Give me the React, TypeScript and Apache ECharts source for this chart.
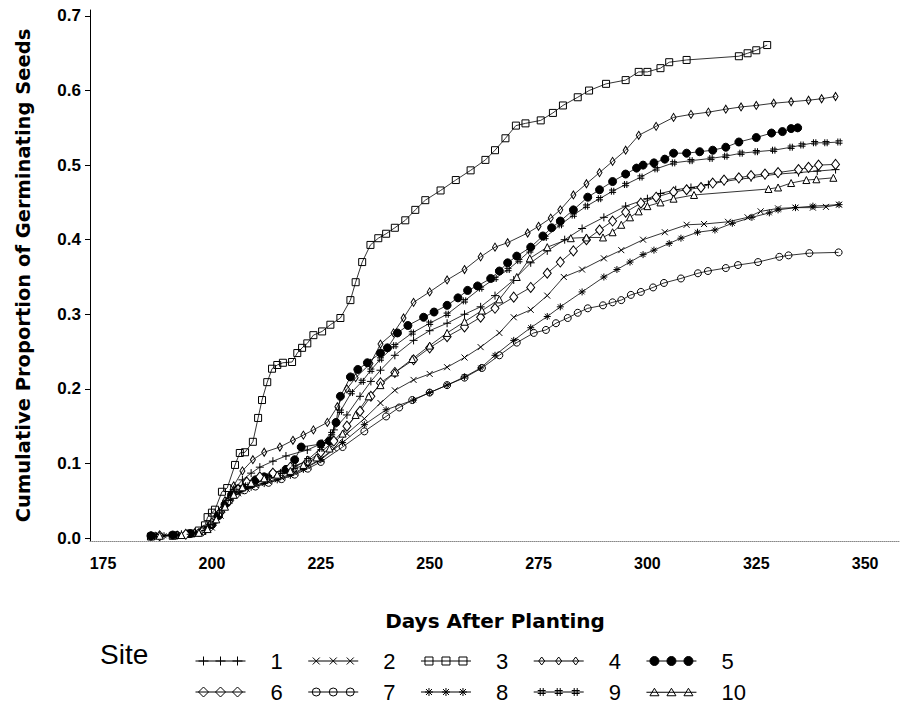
import React, { useEffect, useRef } from "react";
import * as echarts from "echarts";

// ---------- data: [day after planting, cumulative proportion] ----------
const site1: number[][] = [[187,0.003],[193,0.005],[197,0.008],[199,0.015],[201,0.028],[203,0.045],[205,0.065],[207,0.078],[209,0.087],[211,0.095],[214,0.103],[217,0.11],[221.9,0.118],[225.3,0.127],[228,0.145],[231,0.165],[234,0.19],[236.5,0.21],[238.7,0.225],[242,0.245],[246.3,0.265],[250,0.278],[254,0.288],[258,0.3],[261.7,0.31],[265,0.325],[269.3,0.346],[273.2,0.369],[277,0.385],[281,0.4],[285,0.415],[290,0.43],[295,0.445],[300,0.455],[303,0.462],[306.5,0.467],[310,0.47],[314,0.474],[317.6,0.478],[321,0.481],[323.8,0.483],[327,0.486],[330,0.488],[334.7,0.49],[339,0.492],[343.2,0.494]];
const site2: number[][] = [[188,0.003],[194,0.004],[198,0.008],[200,0.014],[202,0.03],[204,0.05],[206,0.06],[208,0.066],[210,0.071],[213,0.076],[216,0.081],[219,0.088],[222,0.096],[225,0.106],[228,0.12],[231,0.14],[235,0.16],[238.7,0.181],[242,0.198],[246.3,0.212],[250,0.22],[254,0.229],[258,0.242],[261.7,0.256],[266,0.275],[269.3,0.296],[273.2,0.306],[277,0.325],[280.8,0.35],[285,0.36],[290,0.375],[294,0.386],[299,0.4],[304,0.41],[309,0.42],[313,0.421],[318.5,0.424],[323,0.43],[326,0.438],[330,0.442],[334,0.443],[338,0.443],[341,0.444],[344,0.447]];
const site3: number[][] = [[186,0.002],[191,0.003],[195,0.006],[197,0.01],[198.4,0.017],[199,0.028],[200,0.034],[200.7,0.038],[202.3,0.062],[203.5,0.067],[205.3,0.098],[206.4,0.114],[207.6,0.115],[209.4,0.129],[210.6,0.161],[211.5,0.185],[212.7,0.209],[213.8,0.227],[215,0.232],[216.3,0.235],[218.4,0.236],[219.6,0.248],[220.7,0.255],[221.9,0.261],[223.3,0.272],[225.3,0.277],[227.2,0.286],[229.5,0.295],[231.8,0.319],[233,0.343],[234.5,0.37],[236.4,0.393],[238.2,0.402],[240,0.408],[242,0.416],[244.4,0.426],[246.7,0.44],[249,0.453],[252.5,0.466],[256,0.48],[259.4,0.493],[262.8,0.507],[265,0.52],[267.4,0.536],[269.8,0.553],[272,0.556],[275.5,0.56],[278.3,0.57],[280.6,0.58],[284,0.591],[286.6,0.6],[290.5,0.609],[295,0.614],[298,0.625],[300,0.625],[303,0.63],[305,0.638],[309,0.641],[321,0.646],[323,0.65],[325,0.654],[327.5,0.661]];
const site4: number[][] = [[186,0.003],[192,0.004],[196,0.007],[199,0.015],[201,0.03],[203,0.05],[205,0.07],[207,0.09],[209.4,0.105],[212,0.115],[215.6,0.122],[218.6,0.131],[221,0.138],[223.3,0.145],[226.5,0.155],[228.8,0.176],[231,0.2],[233,0.215],[236.4,0.234],[238.7,0.26],[241.7,0.275],[244,0.295],[246.3,0.316],[250,0.33],[254,0.346],[258,0.36],[261.7,0.377],[265,0.39],[267.9,0.396],[272.5,0.409],[275,0.418],[277.8,0.429],[280,0.44],[283,0.46],[286,0.475],[289,0.49],[292,0.505],[295,0.52],[298,0.54],[302,0.552],[306,0.564],[310,0.568],[314,0.571],[318,0.575],[321.5,0.578],[325,0.58],[329,0.583],[333,0.585],[337,0.587],[340,0.589],[343.2,0.592]];
const site5: number[][] = [[186,0.003],[191,0.004],[195,0.006],[198,0.01],[200,0.018],[201.5,0.03],[203,0.045],[204.5,0.058],[206,0.066],[208,0.072],[210,0.078],[212,0.082],[214,0.086],[217,0.092],[219,0.105],[220.5,0.122],[225,0.126],[227,0.13],[228.5,0.155],[229.5,0.19],[231.8,0.216],[233.5,0.226],[235.7,0.235],[238.7,0.248],[240.3,0.255],[242.6,0.275],[245,0.285],[248.6,0.296],[251,0.303],[254,0.312],[256.5,0.322],[258.7,0.332],[261,0.338],[264,0.348],[266,0.358],[267.9,0.369],[270,0.378],[273.2,0.39],[276,0.405],[278,0.416],[280,0.425],[283,0.44],[286.3,0.457],[289,0.467],[292,0.478],[295,0.488],[297.5,0.496],[299,0.5],[301.5,0.503],[304,0.508],[306,0.516],[309,0.516],[312,0.518],[315,0.52],[318,0.524],[321,0.531],[325,0.537],[328.5,0.543],[331,0.545],[333,0.549],[334.5,0.55]];
const site6: number[][] = [[188,0.003],[194,0.005],[198,0.01],[200,0.02],[202,0.035],[204,0.05],[206,0.065],[208,0.075],[211,0.082],[214,0.087],[218,0.095],[222,0.103],[225,0.115],[228,0.13],[231,0.15],[234,0.17],[236.5,0.19],[238.7,0.208],[242,0.222],[246.3,0.239],[250,0.255],[254,0.27],[258,0.283],[261.7,0.296],[265,0.308],[269.3,0.323],[273.2,0.336],[277,0.355],[280,0.37],[283,0.385],[286,0.4],[289,0.413],[292,0.425],[295,0.437],[298.5,0.449],[302,0.457],[306,0.464],[309,0.467],[312.3,0.47],[315,0.476],[317.6,0.48],[321,0.483],[323.8,0.486],[327,0.488],[330,0.49],[334.7,0.494],[337,0.497],[339.3,0.5],[343.2,0.501]];
const site7: number[][] = [[186,0.002],[192,0.004],[197,0.007],[199.5,0.014],[201.5,0.03],[203.5,0.048],[205.5,0.058],[207.5,0.064],[210,0.069],[213,0.074],[216,0.079],[219,0.085],[222,0.093],[225,0.102],[230,0.122],[235,0.143],[240,0.163],[243,0.175],[246,0.185],[250,0.195],[254,0.205],[258,0.215],[262,0.228],[266,0.245],[270,0.262],[273.9,0.275],[276.7,0.279],[279,0.288],[281.7,0.295],[284,0.302],[286.3,0.308],[289.8,0.312],[292,0.316],[294,0.319],[296.2,0.326],[298.5,0.33],[301.3,0.336],[303.8,0.342],[307.7,0.348],[311.6,0.355],[313.9,0.358],[318,0.362],[320.8,0.366],[325.4,0.37],[330.3,0.377],[332.4,0.379],[337.2,0.382],[343.9,0.383]];
const site8: number[][] = [[189,0.003],[195,0.005],[198.5,0.01],[200.5,0.02],[202.5,0.038],[204.5,0.054],[206.5,0.062],[209,0.068],[212,0.073],[215,0.078],[218,0.084],[221,0.092],[225,0.105],[230,0.128],[235,0.152],[240,0.172],[246.3,0.185],[250,0.195],[254,0.205],[258,0.216],[261.7,0.228],[265,0.245],[269.3,0.265],[273.2,0.282],[277,0.297],[280,0.31],[285,0.33],[290,0.35],[293,0.36],[296,0.37],[299,0.38],[301.5,0.386],[305,0.395],[307.7,0.402],[311.5,0.41],[315.5,0.413],[319.5,0.422],[324,0.43],[328,0.436],[330,0.44],[334,0.443],[338,0.445],[344,0.447]];
const site9: number[][] = [[187,0.003],[192,0.004],[196,0.006],[198.5,0.012],[200,0.02],[202,0.035],[204,0.052],[206,0.063],[208,0.07],[210,0.076],[213,0.082],[216,0.088],[219,0.095],[222,0.105],[225,0.12],[227.5,0.14],[229.5,0.17],[232,0.195],[234.5,0.21],[236.5,0.225],[238.7,0.24],[242,0.258],[246,0.275],[250,0.288],[254,0.3],[258,0.318],[261.7,0.335],[265,0.348],[268,0.36],[270.5,0.372],[273,0.385],[276.5,0.403],[280,0.42],[283,0.433],[286,0.445],[289,0.455],[292,0.465],[295,0.474],[298.5,0.484],[302,0.495],[306,0.503],[310,0.506],[314.6,0.509],[318,0.512],[321.5,0.516],[325,0.518],[329,0.52],[333,0.524],[335.5,0.527],[338.4,0.53],[341,0.53],[344,0.531]];
const site10: number[][] = [[188,0.003],[193,0.004],[197,0.007],[199,0.012],[201,0.025],[203,0.042],[205,0.058],[207,0.068],[209,0.074],[212,0.08],[215,0.085],[218,0.09],[221,0.098],[224,0.108],[227,0.12],[230,0.14],[233,0.165],[236,0.19],[238.7,0.205],[242,0.222],[246,0.24],[250,0.258],[254,0.275],[258,0.29],[262,0.305],[266,0.32],[270,0.35],[273,0.375],[277,0.39],[282.4,0.402],[286,0.403],[289.8,0.403],[292,0.41],[294,0.42],[296,0.43],[298,0.438],[300,0.445],[303,0.45],[306,0.455],[310.7,0.46],[327.8,0.468],[330,0.47],[333,0.476],[336.5,0.48],[338.8,0.481],[342.7,0.483]];

const siteNames = ["1", "2", "3", "4", "5", "6", "7", "8", "9", "10"];
const siteData = [site1, site2, site3, site4, site5, site6, site7, site8, site9, site10];
const xTicks = [175, 200, 225, 250, 275, 300, 325, 350];
const yTicks = [0.0, 0.1, 0.2, 0.3, 0.4, 0.5, 0.6, 0.7];

// ---------- marker styles ----------
type Kind = "plus" | "cross" | "square" | "smallDiamond" | "dot" | "diamond" | "circle" | "star" | "hash" | "triangle";
const kinds: Kind[] = ["plus", "cross", "square", "smallDiamond", "dot", "diamond", "circle", "star", "hash", "triangle"];

const CLEAR = "rgba(0,0,0,0)";

function seriesSymbol(k: Kind): { symbol: string; size: number | number[]; fill: string } {
  switch (k) {
    case "plus": return { symbol: "path://M0,5L10,5M5,0L5,10", size: 8, fill: "#000" };
    case "cross": return { symbol: "path://M0,0L10,10M10,0L0,10", size: 6, fill: "#000" };
    case "square": return { symbol: "rect", size: 7, fill: CLEAR };
    case "smallDiamond": return { symbol: "diamond", size: [5, 8], fill: CLEAR };
    case "dot": return { symbol: "circle", size: 8, fill: "#000" };
    case "diamond": return { symbol: "diamond", size: [8, 10], fill: "#fff" };
    case "circle": return { symbol: "circle", size: 7, fill: CLEAR };
    case "star": return { symbol: "path://M0,5L10,5M5,0L5,10M1.5,1.5L8.5,8.5M8.5,1.5L1.5,8.5", size: 7, fill: "#000" };
    case "hash": return { symbol: "path://M0,3.3L10,3.3M0,6.7L10,6.7M3.3,0L3.3,10M6.7,0L6.7,10", size: 7, fill: "#000" };
    case "triangle": return { symbol: "triangle", size: 7, fill: "#fff" };
  }
}

const CX = [8, 25, 42];
function legendIcon(k: Kind): string {
  let d = "M0,6L50,6";
  for (const c of CX) {
    switch (k) {
      case "plus": d += `M${c - 5},6L${c + 5},6M${c},1.5L${c},10.5`; break;
      case "cross": d += `M${c - 3.5},2.5L${c + 3.5},9.5M${c + 3.5},2.5L${c - 3.5},9.5`; break;
      case "square": d += `M${c - 4},2L${c + 4},2L${c + 4},10L${c - 4},10Z`; break;
      case "smallDiamond": d += `M${c},2L${c + 3},6L${c},10L${c - 3},6Z`; break;
      case "dot": d += `M${c - 4.5},6A4.5,4.5,0,1,0,${c + 4.5},6A4.5,4.5,0,1,0,${c - 4.5},6Z`; break;
      case "diamond": d += `M${c},1L${c + 5},6L${c},11L${c - 5},6Z`; break;
      case "circle": d += `M${c - 4},6A4,4,0,1,0,${c + 4},6A4,4,0,1,0,${c - 4},6Z`; break;
      case "star": d += `M${c - 4},6L${c + 4},6M${c},2L${c},10M${c - 3},3L${c + 3},9M${c + 3},3L${c - 3},9`; break;
      case "hash": d += `M${c - 4},4.5L${c + 4},4.5M${c - 4},7.5L${c + 4},7.5M${c - 1.5},2L${c - 1.5},10M${c + 1.5},2L${c + 1.5},10`; break;
      case "triangle": d += `M${c},2L${c + 4.5},9.5L${c - 4.5},9.5Z`; break;
    }
  }
  return "path://" + d;
}

function legendFill(k: Kind): string {
  return k === "dot" ? "#000" : k === "diamond" || k === "triangle" ? "#fff" : CLEAR;
}

export default function App() {
  const ref = useRef<HTMLDivElement>(null);

  useEffect(() => {
    if (!ref.current) return;
    const chart = echarts.init(ref.current, undefined, { renderer: "svg" });

    const series = siteNames.map((name, i) => {
      const s = seriesSymbol(kinds[i]);
      return {
        name,
        type: "line",
        data: siteData[i],
        symbol: s.symbol,
        symbolSize: s.size,
        showSymbol: true,
        lineStyle: { color: "#000", width: 0.8 },
        itemStyle: { color: s.fill, borderColor: "#000", borderWidth: 1 },
        emphasis: { disabled: true },
        z: 2,
      };
    });

    const legendItems = (from: number, to: number) =>
      siteNames.slice(from, to).map((name, j) => {
        const k = kinds[from + j];
        return {
          name,
          icon: legendIcon(k),
          itemStyle: { color: legendFill(k), borderColor: "#000", borderWidth: 1 },
        };
      });

    const legendCommon = {
      left: 195,
      orient: "horizontal",
      itemWidth: 50,
      itemHeight: 12,
      itemGap: 25,
      padding: 0,
      selectedMode: false,
      textStyle: {
        fontFamily: "Liberation Sans, Arial, sans-serif",
        fontSize: 22,
        color: "#000",
        padding: [0, 0, 0, 20],
      },
    };

    chart.setOption({
      animation: false,
      backgroundColor: "#fff",
      grid: { left: 90, right: 11, top: 10, bottom: 179 },
      xAxis: {
        type: "value",
        min: 172,
        max: 358,
        axisLine: { show: true, onZero: false, lineStyle: { color: "#888", type: "dotted", width: 1 } },
        axisTick: { show: false },
        splitLine: { show: false },
        axisLabel: {
          customValues: xTicks,
          color: "#000",
          fontWeight: "bold",
          fontSize: 16,
          fontFamily: "Liberation Sans, Arial, sans-serif",
          margin: 14,
        },
        name: "Days After Planting",
        nameLocation: "middle",
        nameGap: 70,
        nameTextStyle: { color: "#000", fontWeight: "bold", fontSize: 20, fontFamily: "DejaVu Sans, Verdana, sans-serif" },
      },
      yAxis: {
        type: "value",
        min: -0.004,
        max: 0.708,
        axisLine: { show: true, onZero: false, lineStyle: { color: "#000", width: 1 } },
        axisTick: { show: true, customValues: yTicks, length: 5, lineStyle: { color: "#000" } },
        splitLine: { show: false },
        axisLabel: {
          customValues: yTicks,
          formatter: (v: number) => v.toFixed(1),
          color: "#000",
          fontWeight: "bold",
          fontSize: 17,
          fontFamily: "Liberation Sans, Arial, sans-serif",
          margin: 9,
        },
        name: "Cumulative Proportion of Germinating Seeds",
        nameLocation: "middle",
        nameGap: 57,
        nameRotate: 90,
        nameTextStyle: { color: "#000", fontWeight: "bold", fontSize: 19.5, fontFamily: "DejaVu Sans, Verdana, sans-serif" },
      },
      legend: [
        { ...legendCommon, top: 650, data: legendItems(0, 5) },
        { ...legendCommon, top: 681, data: legendItems(5, 10) },
      ],
      graphic: [
        {
          type: "text",
          left: 100,
          top: 640,
          style: { text: "Site", fontSize: 28, fontFamily: "Liberation Sans, Arial, sans-serif", fill: "#000" },
        },
      ],
      series,
    });

    return () => chart.dispose();
  }, []);

  return (
    <div
      ref={ref}
      style={{ position: "fixed", left: 0, top: 0, width: 911, height: 720, background: "#fff" }}
    />
  );
}
